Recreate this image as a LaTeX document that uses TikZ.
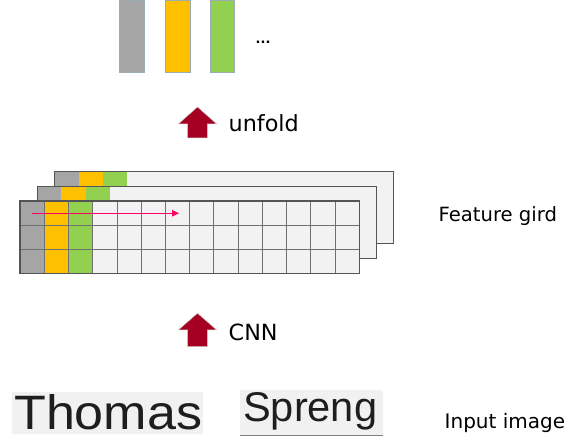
\documentclass[tikz,border=0pt]{standalone}
\usepackage{fontspec}
\setmainfont{DejaVu Sans}
\newfontfamily\handfont{Liberation Sans}
\usetikzlibrary{arrows.meta}
\definecolor{cgray}{HTML}{A5A5A5}
\definecolor{cyel}{HTML}{FFC000}
\definecolor{cgreen}{HTML}{92D050}
\definecolor{cgrid}{HTML}{F2F2F2}
\definecolor{cline}{HTML}{707070}
\definecolor{cedge}{HTML}{555555}
\definecolor{cred}{HTML}{A50021}
\definecolor{cpink}{HTML}{FF0066}
\definecolor{cbar}{HTML}{9DABB3}
\definecolor{hwbg}{HTML}{F1F1F1}
\definecolor{hwink}{HTML}{1E1E1E}
\tikzset{
  barbox/.style={draw=cbar, line width=0.9pt, inner sep=0pt, anchor=north west,
    minimum width=24.5pt, minimum height=72pt},
  lbl/.style={anchor=base west, inner sep=0pt, text=black},
  blockarrow/.style={fill=cred, draw=gray!45, line width=0.5pt},
  gridline/.style={draw=cline, line width=0.8pt},
  layeredge/.style={draw=cedge, line width=1.2pt},
}
\begin{document}
\begin{tikzpicture}[x=1pt,y=-1pt]
\useasboundingbox (0,0) rectangle (568,443);

% top bars
\node[barbox, fill=cgray] (b1) at (119,0) {};
\node[barbox, fill=cyel] (b2) at (165,0) {};
\node[barbox, fill=cgreen] (b3) at (209.6,0) {};
\node[lbl, font=\bfseries\fontsize{13}{13}\selectfont] (dots) at (255.5,43.5) {...};

% unfold arrow
\fill[blockarrow] (197.5,107) -- (216.7,124) -- (207.3,124) -- (207.3,138)
  -- (187.7,138) -- (187.7,124) -- (178.3,124) -- cycle;
\node[lbl, font=\fontsize{22.3}{24}\selectfont] (unfold) at (228.5,131.7) {unfold};

% feature grid layers
\def\cw{24.236}
\def\rh{24.1}
\foreach \k in {2,1} {
  \begin{scope}[shift={({20+17.2*\k},{201-14.75*\k})}]
    \fill[cgrid] (0,0) rectangle (339.3,72.3);
    \fill[cgray] (0,0) rectangle (\cw,72.3);
    \fill[cyel] (\cw,0) rectangle ({2*\cw},72.3);
    \fill[cgreen] ({2*\cw},0) rectangle ({3*\cw},72.3);
    \draw[layeredge] (0,0) rectangle (339.3,72.3);
  \end{scope}
}
\begin{scope}[shift={(20,201)}]
  \fill[cgrid] (0,0) rectangle (339.3,72.3);
  \fill[cgray] (0,0) rectangle (\cw,72.3);
  \fill[cyel] (\cw,0) rectangle ({2*\cw},72.3);
  \fill[cgreen] ({2*\cw},0) rectangle ({3*\cw},72.3);
  \foreach \i in {1,...,13} { \draw[gridline] ({\i*\cw},0) -- ({\i*\cw},72.3); }
  \foreach \j in {1,2} { \draw[gridline] (0,{\j*\rh}) -- (339.3,{\j*\rh}); }
  \draw[layeredge] (0,0) rectangle (339.3,72.3);
\end{scope}
\coordinate (pa) at (31.7,213.3);
\coordinate (pb) at (179,213.3);
\draw[cpink, line width=1.3pt, -{Triangle[length=7pt,width=6.5pt]}] (pa) -- (pb);
\node[lbl, font=\fontsize{19.6}{22}\selectfont] (feat) at (438.5,221.7) {Feature gird};

% CNN arrow
\fill[blockarrow] (197.5,313.3) -- (216.7,330) -- (207.3,330) -- (207.3,346.7)
  -- (187.7,346.7) -- (187.7,330) -- (178.3,330) -- cycle;
\node[lbl, font=\fontsize{22.3}{24}\selectfont] (cnn) at (228.5,341) {CNN};

% input image
\fill[hwbg] (12,392) rectangle (203,434);
\fill[hwbg] (240,390) rectangle (383,435);
\draw[gray, line width=0.8pt] (240,435) -- (383,435);
\node[lbl, text=hwink] (hw1) at (14,430) {\resizebox{188pt}{35pt}{\handfont Thomas}};
\node[lbl, text=hwink] (hw2) at (243,422) {\resizebox{134pt}{29pt}{\handfont Spreng}};
\node[lbl, font=\fontsize{20}{22}\selectfont] (inp) at (444.5,428.3) {Input image};
\end{tikzpicture}
\end{document}
